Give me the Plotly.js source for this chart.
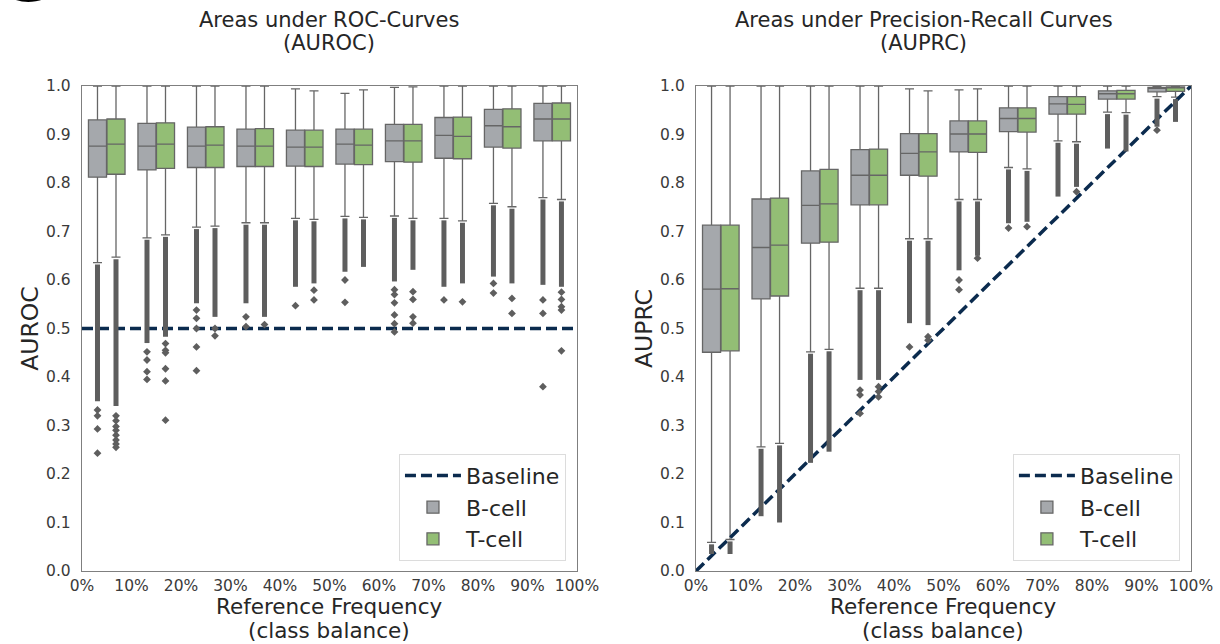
<!DOCTYPE html>
<html>
<head>
<meta charset="utf-8">
<script src="https://cdn.plot.ly/plotly-3.0.1.min.js"></script>
<style>html,body{margin:0;padding:0;background:#fff}#chart{width:1220px;height:644px}</style>
</head>
<body>
<div id="chart"></div>
<script>
// ---------- DATA ----------
const binCenters = [5, 15, 25, 35, 45, 55, 65, 75, 85, 95];           // class-balance bins (%)
const xTickVals  = [0, 10, 20, 30, 40, 50, 60, 70, 80, 90, 100];
const xTickText  = ['0%','10%','20%','30%','40%','50%','60%','70%','80%','90%','100%'];
const groupNames = ['B-cell', 'T-cell'];

// AUROC, B-cell
const rocB_q1    = [0.812, 0.827, 0.832, 0.834, 0.835, 0.839, 0.844, 0.851, 0.874, 0.887];
const rocB_med   = [0.876, 0.876, 0.876, 0.876, 0.874, 0.880, 0.887, 0.898, 0.918, 0.932];
const rocB_q3    = [0.930, 0.923, 0.915, 0.911, 0.909, 0.911, 0.921, 0.935, 0.952, 0.964];
const rocB_lo    = [0.636, 0.687, 0.709, 0.718, 0.727, 0.731, 0.732, 0.727, 0.758, 0.770];
const rocB_hi    = [1.000, 1.000, 1.000, 1.000, 0.994, 0.985, 0.997, 1.000, 1.000, 1.000];
const rocB_dense = [0.350, 0.470, 0.552, 0.552, 0.586, 0.617, 0.597, 0.586, 0.607, 0.590];
const rocB_out   = [[0.332, 0.320, 0.293, 0.243], [0.452, 0.435, 0.411, 0.395], [0.538, 0.521, 0.500, 0.462, 0.413],
                    [0.524, 0.504], [0.547], [0.600, 0.554], [0.580, 0.570, 0.553, 0.528, 0.510, 0.493],
                    [0.559], [0.593, 0.573], [0.559, 0.531, 0.380]];
// AUROC, T-cell
const rocT_q1    = [0.818, 0.830, 0.832, 0.834, 0.834, 0.838, 0.843, 0.850, 0.872, 0.887];
const rocT_med   = [0.880, 0.880, 0.878, 0.876, 0.874, 0.878, 0.887, 0.896, 0.916, 0.932];
const rocT_q3    = [0.932, 0.924, 0.916, 0.912, 0.909, 0.911, 0.921, 0.936, 0.953, 0.965];
const rocT_lo    = [0.647, 0.693, 0.711, 0.718, 0.725, 0.729, 0.727, 0.722, 0.751, 0.766];
const rocT_hi    = [1.000, 1.000, 1.000, 1.000, 0.990, 0.992, 0.998, 1.000, 1.000, 1.000];
const rocT_dense = [0.340, 0.483, 0.524, 0.524, 0.593, 0.627, 0.621, 0.593, 0.593, 0.586];
const rocT_out   = [[0.320, 0.310, 0.298, 0.290, 0.280, 0.270, 0.262, 0.255], [0.469, 0.455, 0.450, 0.417, 0.392, 0.311],
                    [0.500, 0.485], [0.508], [0.579, 0.559], [], [0.576, 0.560, 0.524, 0.511],
                    [0.555], [0.562, 0.531], [0.575, 0.560, 0.545, 0.538, 0.454]];
// AUPRC, B-cell
const prcB_q1    = [0.451, 0.561, 0.676, 0.755, 0.816, 0.864, 0.906, 0.942, 0.973, 0.988];
const prcB_med   = [0.581, 0.667, 0.754, 0.816, 0.861, 0.901, 0.933, 0.963, 0.984, 0.995];
const prcB_q3    = [0.713, 0.767, 0.825, 0.869, 0.902, 0.928, 0.955, 0.978, 0.990, 0.997];
const prcB_lo    = [0.059, 0.256, 0.452, 0.583, 0.685, 0.766, 0.832, 0.887, 0.946, 0.978];
const prcB_hi    = [1.000, 1.000, 1.000, 1.000, 0.994, 0.992, 1.000, 1.000, 1.000, 1.000];
const prcB_dense = [0.035, 0.113, 0.223, 0.394, 0.511, 0.620, 0.717, 0.772, 0.871, 0.916];
const prcB_out   = [[], [], [], [0.373, 0.363, 0.325], [0.462], [0.600, 0.580], [0.707], [], [], [0.909]];
// AUPRC, T-cell
const prcT_q1    = [0.454, 0.567, 0.678, 0.755, 0.814, 0.863, 0.905, 0.942, 0.973, 0.989];
const prcT_med   = [0.582, 0.672, 0.757, 0.816, 0.864, 0.901, 0.933, 0.962, 0.984, 0.996];
const prcT_q3    = [0.713, 0.769, 0.828, 0.870, 0.902, 0.928, 0.955, 0.978, 0.991, 0.998];
const prcT_lo    = [0.065, 0.263, 0.457, 0.583, 0.685, 0.766, 0.829, 0.885, 0.945, 0.977];
const prcT_hi    = [1.000, 1.000, 1.000, 1.000, 0.990, 0.994, 1.000, 1.000, 1.000, 1.000];
const prcT_dense = [0.035, 0.100, 0.246, 0.394, 0.507, 0.650, 0.720, 0.792, 0.865, 0.926];
const prcT_out   = [[], [], [], [0.380, 0.370, 0.359], [0.483, 0.476], [0.645], [0.710], [0.782], [], []];

// Baselines (random classifier)
const baselineX    = [0, 100];
const rocBaselineY = [0.5, 0.5];
const prcBaselineY = [0, 1];

// ---------- STYLE ----------
const FILL = {'B-cell': '#a5a8ac', 'T-cell': '#93be75'};
const EDGE = '#666666';
const OUT_COLOR = '#5e5e5e';
const BASE_COLOR = '#0b2b4e';
const BOX_W = 3.65;         // box width in x-units (%)
const HUE_OFFSET = 1.87;    // hue dodge in x-units (%)
const FONT = 'DejaVu Sans, Liberation Sans, sans-serif';
const TXT = '#262626';

function panelTraces(sets, baselineY, xa, ya, leg) {
  const traces = [{
    type: 'scatter', mode: 'lines', name: 'Baseline', x: baselineX, y: baselineY,
    xaxis: xa, yaxis: ya, legend: leg, hoverinfo: 'skip',
    line: {color: BASE_COLOR, width: 3.5, dash: '11px,5px'}
  }];
  sets.forEach((s, k) => {
    const sign = k === 0 ? -1 : 1;
    const pos = binCenters.map(c => c + sign * HUE_OFFSET);
    traces.push({
      type: 'box', name: s.name, orientation: 'v', x: pos,
      q1: s.q1, median: s.med, q3: s.q3, lowerfence: s.lo, upperfence: s.hi,
      width: BOX_W, whiskerwidth: 0.5, boxpoints: false,
      fillcolor: FILL[s.name], line: {color: EDGE, width: 1.3},
      xaxis: xa, yaxis: ya, legend: leg, hoverinfo: 'skip'
    });
    // dense runs of outliers below the lower whisker
    const dx = [], dy = [];
    pos.forEach((p, i) => { dx.push(p, p, null); dy.push(s.lo[i] - 0.004, s.dense[i], null); });
    traces.push({
      type: 'scatter', mode: 'lines', x: dx, y: dy, showlegend: false, hoverinfo: 'skip',
      xaxis: xa, yaxis: ya, line: {color: OUT_COLOR, width: 5}
    });
    // isolated outliers
    const ox = [], oy = [];
    pos.forEach((p, i) => s.out[i].forEach(v => { ox.push(p); oy.push(v); }));
    traces.push({
      type: 'scatter', mode: 'markers', x: ox, y: oy, showlegend: false, hoverinfo: 'skip',
      xaxis: xa, yaxis: ya, marker: {symbol: 'diamond', size: 6, color: OUT_COLOR}
    });
  });
  return traces;
}

const data = [].concat(
  panelTraces([
    {name: groupNames[0], q1: rocB_q1, med: rocB_med, q3: rocB_q3, lo: rocB_lo, hi: rocB_hi, dense: rocB_dense, out: rocB_out},
    {name: groupNames[1], q1: rocT_q1, med: rocT_med, q3: rocT_q3, lo: rocT_lo, hi: rocT_hi, dense: rocT_dense, out: rocT_out}
  ], rocBaselineY, 'x', 'y', 'legend'),
  panelTraces([
    {name: groupNames[0], q1: prcB_q1, med: prcB_med, q3: prcB_q3, lo: prcB_lo, hi: prcB_hi, dense: prcB_dense, out: prcB_out},
    {name: groupNames[1], q1: prcT_q1, med: prcT_med, q3: prcT_q3, lo: prcT_lo, hi: prcT_hi, dense: prcT_dense, out: prcT_out}
  ], prcBaselineY, 'x2', 'y2', 'legend2')
);

function xAxis(domain, anchor) {
  return {
    domain: domain, anchor: anchor, range: [0, 100], tickmode: 'array', tickvals: xTickVals, ticktext: xTickText,
    showgrid: false, zeroline: false, showline: true, mirror: true, linecolor: '#7f7f7f', linewidth: 1.2,
    ticks: '', ticklabelstandoff: 0, tickfont: {family: FONT, size: 15.5, color: '#3a3a3a'},
    fixedrange: true
  };
}
function yAxis(anchor, title) {
  return {
    domain: [0, 1], anchor: anchor, range: [0, 1], dtick: 0.1, tick0: 0, tickformat: '.1f',
    showgrid: false, zeroline: false, showline: true, mirror: true, linecolor: '#7f7f7f', linewidth: 1.2,
    ticks: '', ticklabelstandoff: 7, tickfont: {family: FONT, size: 15.5, color: '#3a3a3a'},
    title: {text: title, font: {family: FONT, size: 23.5, color: TXT}, standoff: 0},
    fixedrange: true
  };
}
function legendAt(x) {
  return {
    x: x, xanchor: 'right', y: 0.021, yanchor: 'bottom', bgcolor: '#ffffff',
    bordercolor: '#dcdcdc', borderwidth: 1, font: {family: FONT, size: 22, color: TXT},
    itemwidth: 56, traceorder: 'normal'
  };
}
function textLine(text, x, y, size) {
  return {text: text, xref: 'paper', yref: 'paper', x: x, y: y, xanchor: 'center', yanchor: 'middle',
          showarrow: false, font: {family: FONT, size: size, color: TXT}};
}
const X_TITLE_1 = 'Reference Frequency', X_TITLE_2 = '(class balance)';

const layout = {
  width: 1220, height: 644,
  margin: {l: 82, r: 29, t: 86, b: 73},
  paper_bgcolor: '#ffffff', plot_bgcolor: '#ffffff',
  font: {family: FONT, color: TXT},
  boxmode: 'overlay', showlegend: true,
  xaxis: xAxis([0, 0.4463], 'y'),
  yaxis: yAxis('x', 'AUROC'),
  xaxis2: xAxis([0.5537, 1], 'y2'),
  yaxis2: yAxis('x2', 'AUPRC'),
  legend: legendAt(0.4364),
  legend2: legendAt(0.990),
  annotations: [
    textLine('Areas under ROC-Curves', 0.2231, 1.136, 21),
    textLine('(AUROC)', 0.2231, 1.0887, 21),
    textLine('Areas under Precision-Recall Curves', 0.7592, 1.136, 21),
    textLine('(AUPRC)', 0.7592, 1.0887, 21),
    textLine(X_TITLE_1, 0.2231, -0.0732, 21.5),
    textLine(X_TITLE_2, 0.2231, -0.1237, 21.5),
    textLine(X_TITLE_1, 0.7768, -0.0732, 21.5),
    textLine(X_TITLE_2, 0.7768, -0.1237, 21.5),
    {text: '<b>c</b>', xref: 'paper', yref: 'paper', x: -0.0541, y: 1.1278, xanchor: 'center', yanchor: 'bottom',
     showarrow: false, font: {family: FONT, size: 90, color: '#000000'}}
  ]
};

Plotly.newPlot('chart', data, layout, {displayModeBar: false, staticPlot: true});
</script>
</body>
</html>
